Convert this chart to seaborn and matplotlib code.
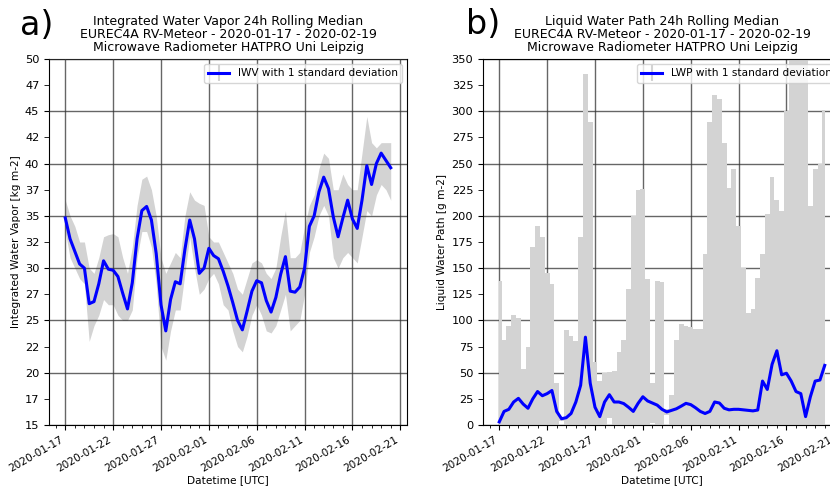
import numpy as np
import pandas as pd
import matplotlib
matplotlib.use("Agg")
import matplotlib.pyplot as plt
import matplotlib.dates as mdates
from matplotlib.ticker import FixedLocator, FuncFormatter
from matplotlib.lines import Line2D
from matplotlib.legend_handler import HandlerTuple
import seaborn as sns

# 24h rolling statistics, sampled every 12 hours
times = pd.date_range("2020-01-17 00:00", "2020-02-20 00:00", freq="12h")

iwv_median = [34.8, 32.8, 31.6, 30.4, 30.0, 26.6, 26.8, 28.5, 30.7, 29.9,
              29.8, 29.2, 27.6, 26.1, 28.6, 32.8, 35.5, 35.9, 34.6, 31.4,
              26.5, 24.0, 27.0, 28.7, 28.5, 31.8, 34.6, 32.8, 29.5, 30.0,
              31.9, 31.2, 30.9, 29.7, 28.3, 26.7, 25.0, 24.1, 25.9, 27.8,
              28.8, 28.6, 26.9, 25.8, 27.2, 29.4, 31.1, 27.8, 27.7, 28.2,
              30.0, 34.0, 35.0, 37.3, 38.7, 37.6, 34.9, 33.0, 34.8, 36.5,
              34.7, 33.8, 36.5, 39.8, 38.0, 40.0, 41.0, 40.3, 39.6]
iwv_upper = [36.5, 35.0, 34.0, 32.5, 32.5, 30.0, 29.5, 31.0, 33.0, 33.2,
             33.3, 33.0, 31.0, 29.5, 32.0, 36.0, 38.5, 38.8, 37.5, 35.0,
             31.0, 29.5, 30.5, 31.5, 31.0, 35.0, 37.3, 36.5, 36.2, 36.0,
             33.0, 32.5, 32.5, 31.5, 30.5, 29.5, 28.0, 27.5, 29.0, 30.5,
             30.8, 30.5, 29.5, 29.0, 30.0, 33.0, 35.5, 31.0, 31.0, 31.5,
             34.0, 36.0, 37.0, 39.5, 41.0, 40.5, 37.5, 37.5, 39.0, 38.0,
             37.5, 37.5, 41.0, 44.5, 42.0, 41.5, 42.0, 42.0, 42.0]
iwv_lower = [33.5, 31.0, 30.0, 29.0, 28.5, 23.0, 24.5, 25.5, 27.0, 26.5,
             26.5, 25.5, 25.0, 25.0, 26.0, 31.0, 33.5, 33.5, 32.0, 28.5,
             22.5, 21.2, 24.0, 26.0, 26.0, 29.5, 33.0, 30.0, 27.5, 28.0,
             29.0, 29.5, 28.5, 26.5, 26.0, 24.0, 22.5, 22.0, 23.5, 25.5,
             26.5, 25.5, 24.0, 23.8, 24.5, 26.0, 27.5, 24.0, 24.5, 25.0,
             27.5, 31.5, 33.0, 35.0, 36.0, 35.0, 31.0, 30.0, 31.0, 31.5,
             31.0, 30.5, 33.0, 35.5, 35.0, 37.0, 38.0, 37.5, 36.5]

lwp_median = [3, 13, 15, 22, 25.5, 20, 16, 25, 32, 28,
              30, 33, 13, 6, 7, 11, 22, 38, 84, 40,
              17, 8, 22, 29, 22, 22, 20.5, 17, 13, 20.7,
              27, 23, 21, 19, 15, 12.5, 14, 15.5, 18, 20.7,
              19.5, 16.5, 13, 11, 13, 22, 21, 16, 14.5, 15,
              15, 14.5, 14, 13.5, 14.3, 42, 34, 58, 71, 48,
              49.5, 42, 32, 30, 8, 27, 42, 43, 57]
lwp_std = [135, 68, 80, 83, 77, 34, 59, 145, 158, 152,
           115, 102, 27, 2, 84, 74, 58, 142, 252, 250,
           43, 34, 28, 22, 30, 48, 61, 113, 187, 204,
           199, 117, 19, 119, 122, 3, 15, 66, 79, 74,
           74, 75, 79, 153, 277, 294, 291, 254, 212, 230,
           175, 136, 93, 97, 126, 122, 168, 179, 144, 157,
           251, 318, 348, 350, 362, 182, 203, 207, 244]

iwv_major = [15, 20, 25, 30, 35, 40, 45, 50]
iwv_minor = [17.5, 22.5, 27.5, 32.5, 37.5, 42.5, 47.5]
lwp_major = [0, 50, 100, 150, 200, 250, 300, 350]
lwp_minor = [25, 75, 125, 175, 225, 275, 325]
date_ticks = pd.date_range("2020-01-17", periods=8, freq="5D")

titles = [
    "Integrated Water Vapor 24h Rolling Median\n"
    "EUREC4A RV-Meteor - 2020-01-17 - 2020-02-19\n"
    "Microwave Radiometer HATPRO Uni Leipzig",
    "Liquid Water Path 24h Rolling Median\n"
    "EUREC4A RV-Meteor - 2020-01-17 - 2020-02-19\n"
    "Microwave Radiometer HATPRO Uni Leipzig",
]

W, H = 830, 488
fig = plt.figure(figsize=(W / 100, H / 100), dpi=100)
ax_a = fig.add_axes([49 / W, (H - 425) / H, 358 / W, 366 / H])
ax_b = fig.add_axes([483 / W, (H - 425) / H, 358 / W, 366 / H])

BAND = "#d3d3d3"
GRID = dict(color="#333333", alpha=0.75, linewidth=1.0)
FS = 7.6

def style_axis(ax, major, minor, ylabel, title):
    ax.set_ylim(major[0], major[-1])
    ax.yaxis.set_major_locator(FixedLocator(major))
    ax.yaxis.set_minor_locator(FixedLocator(minor))
    fmt = FuncFormatter(lambda v, p: str(int(v)))
    ax.yaxis.set_major_formatter(fmt)
    ax.yaxis.set_minor_formatter(fmt)
    ax.xaxis.set_major_locator(FixedLocator(mdates.date2num(date_ticks)))
    ax.xaxis.set_major_formatter(mdates.DateFormatter("%Y-%m-%d"))
    ax.xaxis.set_minor_locator(mdates.DayLocator())
    ax.tick_params(axis="y", which="both", length=3.5, labelsize=FS + 0.6)
    ax.tick_params(axis="x", which="major", length=3.5, labelsize=FS)
    ax.tick_params(axis="x", which="minor", length=2.5)
    for lab in ax.get_xticklabels():
        lab.set_rotation(30)
        lab.set_ha("right")
    ax.grid(True, which="major", **GRID)
    ax.set_ylabel(ylabel, fontsize=FS, labelpad=3)
    ax.set_xlabel("Datetime [UTC]", fontsize=FS, labelpad=1)
    ax.set_title(title, fontsize=9, linespacing=1.0, pad=6)

def add_legend(ax, text):
    bar = Line2D([], [], color=BAND, marker="|", markersize=11,
                 markeredgewidth=1.5, linestyle="None")
    line = Line2D([], [], color="blue", linewidth=2.2)
    ax.legend(handles=[(bar, line)], labels=[text], loc="upper right",
              fontsize=FS, handler_map={tuple: HandlerTuple(ndivide=1)},
              borderaxespad=0.5)

# a) integrated water vapour
ax_a.fill_between(times, iwv_lower, iwv_upper, color=BAND, linewidth=0, zorder=1)
sns.lineplot(x=times, y=iwv_median, ax=ax_a, color="blue", linewidth=2.2, zorder=3)
ax_a.set_axisbelow(False)
style_axis(ax_a, iwv_major, iwv_minor, "Integrated Water Vapor [kg m-2]", titles[0])
add_legend(ax_a, "IWV with 1 standard deviation")

# b) liquid water path
lwp_lo = np.array(lwp_median) - np.array(lwp_std)
lwp_hi = np.array(lwp_median) + np.array(lwp_std)
ax_b.fill_between(times, lwp_lo, lwp_hi, step="mid", color=BAND, linewidth=0, zorder=1)
sns.lineplot(x=times, y=lwp_median, ax=ax_b, color="blue", linewidth=2.2, zorder=3)
ax_b.set_axisbelow(True)
style_axis(ax_b, lwp_major, lwp_minor, "Liquid Water Path [g m-2]", titles[1])
add_legend(ax_b, "LWP with 1 standard deviation")

fig.text(20 / W, 1 - 35 / H, "a)", fontsize=24, va="baseline", ha="left")
fig.text(466 / W, 1 - 34 / H, "b)", fontsize=24, va="baseline", ha="left")

fig.savefig("out.png", dpi=100)
